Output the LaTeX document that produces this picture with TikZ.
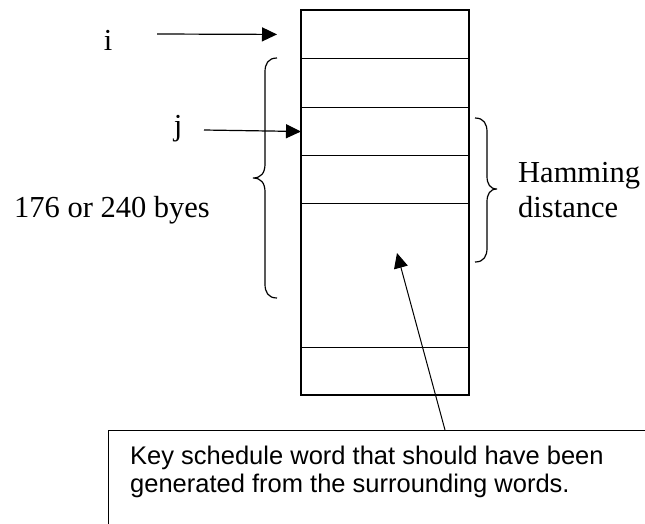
\documentclass[tikz,border=0pt]{standalone}
\usepackage{fontspec}
\setmainfont{Liberation Serif}
\setsansfont{Liberation Sans}
\usetikzlibrary{arrows.meta}
\begin{document}
\begin{tikzpicture}[x=1pt,y=-1pt,
  cell/.style={draw, line width=1pt, minimum width=167pt, inner sep=0pt, anchor=north west},
  ptr/.style={line width=1.2pt, -{Triangle[length=15pt,width=14pt]}},
  brace/.style={line width=1.2pt},
  serif/.style={font=\fontsize{30.5}{35}\selectfont, inner sep=0pt},
  sans/.style={font=\sffamily\fontsize{25.5}{26}\selectfont, inner sep=0pt}]
\useasboundingbox (0,0) rectangle (645,523);
\fill[white] (0,0) rectangle (645,523);
% column of words
\node[cell, minimum height=48pt] (r1) at (301,10) {};
\node[cell, minimum height=49pt] (r2) at (301,58) {};
\node[cell, minimum height=48pt] (r3) at (301,107) {};
\node[cell, minimum height=48pt] (r4) at (301,155) {};
\node[cell, minimum height=144pt] (r5) at (301,203) {};
\node[cell, minimum height=47pt] (r6) at (301,347) {};
\draw[line width=1.4pt] (r1.north west) rectangle (r6.south east);
% pointers
\node[serif, anchor=base] (ilab) at (108,50) {i};
\node[serif, anchor=base] (jlab) at (178,135) {j};
\coordinate (istart) at (157,34);
\coordinate (jstart) at (204,130);
\draw[ptr, shorten >=24pt] (istart) -- (r1.west);
\draw[ptr] (jstart) -- (r3.west);
% left brace
\draw[brace] (277,58) .. controls (268,58) and (265,64) .. (265,72) -- (265,164)
  .. controls (265,173) and (261,178) .. (253,178)
  .. controls (261,178) and (265,183) .. (265,192) -- (265,284)
  .. controls (265,292) and (268,298) .. (277,298);
\node[serif, anchor=base] (bytes) at (112,217) {176 or 240 byes};
% right brace
\draw[brace] (475,118) .. controls (484,118) and (487,124) .. (487,132) -- (487,176)
  .. controls (487,184) and (490,189) .. (497,189)
  .. controls (490,189) and (487,194) .. (487,202) -- (487,248)
  .. controls (487,256) and (484,262) .. (475,262);
\node[serif, anchor=base west] (ham) at (518,182) {Hamming};
\node[serif, anchor=base west] (dist) at (518,217) {distance};
% note box
\begin{scope}
\clip (0,0) rectangle (645,523);
\node[draw, line width=1.2pt, anchor=north west, minimum width=600pt, minimum height=120pt, inner sep=0pt] (note) at (108,430) {};
\end{scope}
\node[sans, anchor=base west] (l1) at (130,464) {Key schedule word that should have been};
\node[sans, anchor=base west] (l2) at (130,492) {generated from the surrounding words.};
\coordinate (kstart) at (445,430);
\coordinate (ktip) at (397,253);
\draw[ptr, line width=1pt] (kstart) -- (ktip);
\end{tikzpicture}
\end{document}
